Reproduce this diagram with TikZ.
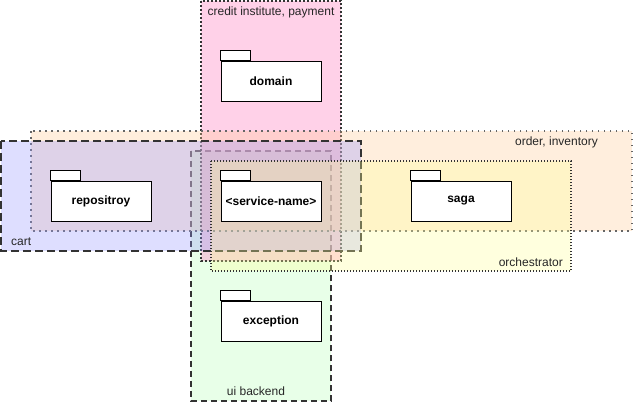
\documentclass[tikz,border=0pt]{standalone}
\usepackage{fontspec}
\setmainfont{Liberation Sans}
\definecolor{pinkfill}{HTML}{FF99CC}
\definecolor{orangefill}{HTML}{FFCC99}
\definecolor{bluefill}{HTML}{9999FF}
\definecolor{greenfill}{HTML}{CCFFCC}
\definecolor{yellowfill}{HTML}{FFFF99}

\begin{document}
\begin{tikzpicture}[x=1pt,y=-1pt,
	region/.style={line width=1.8pt, draw=black!80},
	pkg/.style={draw, fill=white, line width=0.9pt, minimum width=100pt, minimum height=40pt, inner sep=0pt, font=\bfseries\fontsize{12}{14}\selectfont},
	tab/.style={draw, fill=white, line width=0.9pt},
	lbl/.style={inner sep=0pt, font=\fontsize{12}{14}\selectfont, text=black!85}]
		\useasboundingbox (0,0) rectangle (633,402);
		% regions
		\draw[region, fill=greenfill, fill opacity=0.45, dash pattern=on 6pt off 4pt] (191,151) rectangle (331,401);
		\draw[region, fill=pinkfill, fill opacity=0.45, dash pattern=on 1.6pt off 2.4pt] (201,1) rectangle (341,261);
		\draw[region, fill=orangefill, fill opacity=0.33, draw=black!60, line width=1.5pt, dash pattern=on 1.5pt off 4.5pt] (31,131) rectangle (632,231);
		\draw[region, fill=bluefill, fill opacity=0.32, dash pattern=on 8pt off 4pt] (1,141) rectangle (361,251);
		\draw[region, fill=yellowfill, fill opacity=0.32, dash pattern=on 1.2pt off 1.8pt] (211,161) rectangle (571,271);
		% region labels
		\node[lbl] (credit) at (271,12) {credit institute, payment};
		\node[lbl, anchor=east] (order) at (598,142) {order, inventory};
		\node[lbl, anchor=west] (cart) at (11,242) {cart};
		\node[lbl] (ui) at (256,391) {ui backend};
		\node[lbl, anchor=east] (orch) at (563,262) {orchestrator};
		% packages
		\node[pkg] (domain) at (271,81) {domain};
		\node[pkg] (repo) at (101,201) {repositroy};
		\node[pkg] (service) at (271,201) {<service-name>};
		\node[pkg] (saga) at (461,201) {saga};
		\node[pkg] (exception) at (271,321) {exception};
		\foreach \p in {domain,repo,service,saga,exception}
			\draw[tab] (\p.north west) rectangle ++(30,-10);
	\end{tikzpicture}
\end{document}
